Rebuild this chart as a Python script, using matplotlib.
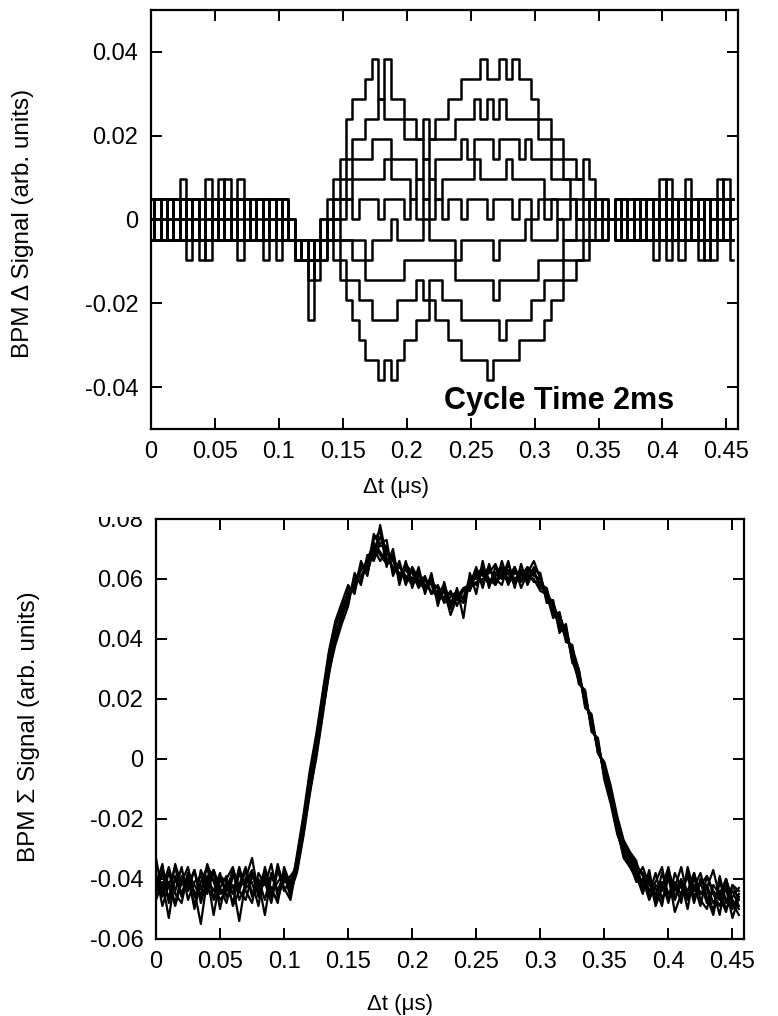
import numpy as np
import matplotlib.pyplot as plt
from matplotlib.patches import Rectangle

plt.rcParams['font.family'] = ['Liberation Sans', 'DejaVu Sans']

# sampling step of the scope traces (us)
T_STEP = 0.005
# one ADC step of the delta signal (arb. units)
LSB_DELTA = 0.0048
# sum signal values are written in units of 0.001
SUM_UNIT = 0.001

X_TICKS = [0, 0.05, 0.1, 0.15, 0.2, 0.25, 0.3, 0.35, 0.4, 0.45]
X_LABELS = ['0', '0.05', '0.1', '0.15', '0.2', '0.25', '0.3', '0.35', '0.4', '0.45']
DELTA_TICKS = [-0.04, -0.02, 0, 0.02, 0.04]
DELTA_LABELS = ['-0.04', '-0.02', '0', '0.02', '0.04']
SUM_TICKS = [-0.06, -0.04, -0.02, 0, 0.02, 0.04, 0.06, 0.08]
SUM_LABELS = ['-0.06', '-0.04', '-0.02', '0', '0.02', '0.04', '0.06', '0.08']

# delta signal, in ADC steps, one list per turn
delta_1 = [1, -1, 0, 1, -1, 1, 0, -1, 1, -1, 0, 1, -1, 1, 2, -1, 0, 1, -1, 1, 0, -1,
           0, -1, -2, -1, -1, 0,
           1, 2, 3, 5, 6, 6, 7, 8, 6, 8, 6, 6, 5, 5, 4, 5, 4, 5, 5, 6,
           6, 7, 7, 7, 8, 7, 7, 8, 7, 8, 7, 7, 6, 5, 5, 4, 4, 3, 3, 2, 3, 2, 1, 1, 0,
           1, -1, 0, 1, -1, 1, -1, 2, 0, -1, 1, -1, 1, 0, -1, 1, -1, 2, -1]
delta_2 = [-1, 1, 0, -1, 1, -1, 1, 0, -1, 2, -1, 1, 0, -1, 1, -1, 0, 1, -1, 0, 1, -1,
           -1, -2, -1, -2, -1, -1,
           0, 1, 2, 3, 4, 4, 5, 5, 6, 5, 5, 5, 4, 4, 4, 3, 4, 4, 4, 4,
           5, 5, 5, 6, 5, 6, 5, 6, 5, 5, 5, 5, 5, 4, 4, 3, 3, 2, 2, 2, 1, 1, 1, 0, 0,
           -1, 1, -1, 0, 1, -1, 1, -1, 0, 1, -2, 1, -1, 0, 1, -1, 1, 0, 1]
delta_3 = [0, -1, 1, -1, 0, 1, -2, 1, -1, 0, 1, -1, 1, 0, -1, 1, -1, 0, 1, -1, 1, 0,
           -1, -1, -2, -5, -2, -1,
           0, 1, 1, 2, 3, 3, 3, 4, 4, 4, 3, 3, 3, 3, 2, 3, 2, 3, 3, 3,
           3, 4, 3, 4, 4, 4, 3, 4, 4, 4, 3, 4, 3, 3, 3, 2, 2, 2, 1, 1, 1, 1, 0, 1, 0,
           0, 1, -1, 1, -1, 0, 1, -1, 1, -1, 0, 1, -1, 1, -2, 0, 1, -1, 0]
delta_4 = [1, 0, -1, 1, -1, 0, 1, -1, 1, -2, 1, 0, -1, 1, -1, 0, 1, -1, 1, 0, -1, 1,
           0, -2, -1, -1, -2, 0,
           0, 0, 1, 1, 2, 2, 2, 2, 2, 3, 2, 2, 2, 1, 2, 1, 2, 1, 2, 2,
           2, 2, 2, 3, 2, 2, 2, 2, 3, 2, 2, 2, 2, 2, 1, 1, 1, 1, 1, 0, 1, 0, 0, 0, 0,
           1, -1, 1, -1, 0, 1, -2, 1, 0, -1, 1, -1, 0, 1, -1, 1, 0, -1, 1]
delta_5 = [-1, 1, -1, 0, 1, 2, -1, 1, 0, -1, 1, -1, 0, 1, -1, 1, 0, -1, -2, 1, -1, 0,
           -1, -1, -2, -1, -3, -1,
           0, 0, 0, 1, 0, 1, 1, 1, 0, 1, 1, 1, 0, 1, 0, 1, 0, 1, 0, 1,
           1, 0, 1, 1, 1, 0, 1, 1, 1, 0, 1, 1, 0, 1, 0, 1, 0, 0, 1, 0, 0, 1, 0, 0, 0,
           -1, 0, 1, -1, 1, -1, 0, 1, -1, 1, 0, 2, -1, 1, -1, 0, 1, -1, 1]
delta_6 = [0, 1, -1, 1, 0, -1, 1, -1, -2, 1, 0, -1, 1, -1, 0, 1, -1, 1, 0, -1, 1, -1,
           -1, -2, -1, -2, -1, -1,
           -1, 0, -1, -1, -1, -1, -2, -1, -1, -1, 0, -1, -1, -1, -1, 0, -1, -1, -1, -1,
           -2, -1, -1, -1, -1, -1, -2, -1, -1, -1, -1, 0, -1, -1, -1, -1, 0, -1, -1, 0,
           -1, 0, 0, -1, 0,
           1, -1, 0, 1, -1, 1, -1, 0, -2, 1, -1, 1, 0, -1, 1, -1, 2, 1, -1]
delta_7 = [1, -1, 1, 0, -1, 1, -1, 0, 1, -1, 1, 0, 2, -1, 1, -1, 0, 1, -1, 1, -1, 0,
           0, -1, -2, -1, -2, -1,
           0, -1, -1, -1, -2, -2, -3, -3, -3, -3, -3, -3, -2, -2, -2, -2, -2, -2, -2, -2,
           -3, -3, -3, -3, -3, -3, -4, -3, -3, -3, -3, -3, -3, -2, -2, -2, -2, -1, -1, -1,
           -1, -1, 0, 0, 0,
           0, 1, -1, 1, 0, -1, 1, -1, 1, 0, -1, 1, -1, -2, 1, 0, -1, 1, 0]
delta_8 = [-1, 0, 1, -1, 1, -1, 0, 1, -1, 1, 0, -1, 1, -1, -2, 1, 0, -1, 1, -1, 0, 1,
           -1, -2, -1, -3, -1, -2,
           -1, -1, -2, -3, -3, -4, -4, -5, -5, -5, -5, -4, -4, -4, -3, -4, -3, -3, -4, -4,
           -4, -5, -5, -5, -5, -5, -5, -6, -5, -5, -5, -5, -4, -4, -3, -3, -3, -2, -2, -2,
           -1, -1, -1, 0, 0,
           -1, 1, 0, -1, 1, -1, 1, 0, -1, 1, -1, 0, 1, -1, 1, -2, 1, -1, 1]
delta_9 = [0, 1, -1, 1, -1, 0, 1, -1, 1, 0, -1, 2, -1, 0, 1, -1, 1, -1, 0, 1, -2, 1,
           -1, -1, -2, -2, -1, -2,
           -1, -2, -3, -4, -5, -6, -7, -7, -8, -7, -8, -7, -6, -6, -5, -5, -4, -5, -5, -6,
           -6, -7, -7, -7, -7, -8, -7, -7, -7, -7, -6, -6, -6, -6, -5, -4, -4, -3, -3, -2,
           -2, -1, -1, -1, 0,
           1, 0, -1, 1, -1, 1, 0, -1, 2, -1, 1, -1, 0, 1, -1, 1, -1, 0, -2]

# sum signal, in units of 0.001
sum_1 = [-40, -46, -38, -44, -36, -47, -41, -39, -45, -37, -43, -48, -39, -42, -36, -45, -40, -47, -38, -44, -41, -39,
         -36, -24, -10, 2, 16, 30, 41, 47, 56, 57, 63, 66, 72, 69,
         66, 67, 60, 64, 59, 62, 57, 60, 54, 57, 52, 56, 53, 60, 58, 63, 59, 62, 64, 58, 63, 60, 62, 59,
         59, 54, 51, 44, 43, 34, 27, 21, 11, 5, -5, -13, -23, -31, -35, -38,
         -41, -45, -38, -47, -40, -43, -36, -46, -42, -49, -39, -44, -47, -41, -50, -45]
sum_2 = [-44, -38, -47, -35, -42, -40, -49, -37, -43, -46, -39, -41, -45, -36, -44, -48, -38, -42, -35, -46, -40, -43,
         -33, -20, -6, 6, 20, 34, 44, 50, 53, 60, 61, 64, 68, 74,
         70, 63, 65, 59, 63, 58, 61, 55, 58, 53, 56, 51, 57, 56, 62, 59, 63, 60, 58, 65, 59, 62, 60, 63,
         57, 56, 48, 47, 41, 36, 29, 19, 13, 3, -3, -11, -21, -29, -33, -36,
         -38, -44, -41, -36, -47, -42, -45, -39, -48, -40, -43, -37, -46, -51, -42, -44]
sum_3 = [-33, -45, -41, -48, -39, -44, -37, -46, -42, -38, -50, -40, -36, -44, -47, -39, -43, -37, -45, -41, -38, -44,
         -38, -26, -12, 1, 15, 28, 40, 49, 54, 59, 60, 67, 71, 68,
         65, 68, 61, 63, 60, 62, 58, 56, 55, 58, 52, 55, 54, 59, 61, 64, 60, 58, 62, 60, 64, 59, 63, 61,
         60, 53, 50, 45, 43, 33, 26, 22, 10, 6, -6, -14, -24, -32, -36, -39,
         -45, -37, -48, -42, -39, -46, -41, -44, -38, -47, -50, -42, -45, -40, -48, -52]
sum_4 = [-47, -41, -53, -39, -45, -42, -37, -48, -40, -44, -38, -46, -42, -54, -41, -37, -46, -39, -43, -48, -36, -42,
         -34, -21, -7, 5, 19, 33, 43, 46, 57, 56, 64, 63, 75, 71,
         71, 62, 64, 61, 58, 61, 60, 58, 53, 54, 55, 53, 56, 57, 59, 60, 62, 65, 60, 62, 58, 63, 61, 60,
         56, 55, 52, 46, 40, 37, 30, 18, 14, 2, -2, -10, -20, -28, -32, -35,
         -39, -46, -43, -49, -37, -44, -40, -47, -43, -38, -46, -52, -41, -47, -44, -49]
sum_5 = [-39, -43, -36, -45, -48, -38, -42, -46, -35, -41, -47, -44, -38, -43, -40, -33, -45, -41, -48, -37, -44, -40,
         -37, -23, -9, 3, 17, 31, 39, 48, 52, 61, 59, 66, 67, 78,
         67, 64, 62, 60, 63, 59, 57, 59, 57, 52, 54, 56, 53, 61, 60, 62, 58, 61, 63, 59, 62, 61, 64, 62,
         58, 57, 49, 48, 42, 35, 28, 20, 12, 4, -4, -12, -22, -30, -34, -37,
         -43, -40, -47, -38, -45, -41, -48, -36, -44, -42, -39, -45, -49, -43, -53, -46]
sum_6 = [-45, -37, -42, -49, -41, -36, -46, -43, -39, -52, -40, -44, -37, -47, -42, -38, -45, -40, -46, -35, -43, -47,
         -35, -22, -8, 6, 21, 35, 45, 51, 55, 58, 65, 62, 70, 66,
         69, 66, 61, 65, 62, 57, 60, 55, 56, 56, 51, 54, 57, 58, 63, 61, 64, 59, 61, 63, 60, 62, 59, 64,
         61, 54, 51, 43, 44, 34, 27, 21, 11, 5, -5, -13, -23, -33, -36, -40,
         -36, -42, -45, -41, -48, -38, -43, -46, -40, -45, -42, -48, -44, -50, -46, -43]
sum_7 = [-42, -35, -48, -40, -45, -38, -50, -41, -36, -47, -43, -39, -49, -44, -37, -46, -41, -52, -39, -44, -38, -46,
         -32, -19, -4, 8, 22, 36, 46, 52, 58, 55, 66, 61, 73, 76,
         64, 70, 58, 66, 57, 64, 55, 62, 51, 59, 50, 57, 47, 62, 55, 66, 57, 64, 60, 66, 57, 65, 58, 63,
         62, 52, 53, 42, 45, 32, 30, 17, 15, 2, -1, -9, -19, -27, -31, -34,
         -44, -39, -49, -43, -36, -47, -41, -50, -38, -45, -43, -51, -39, -48, -42, -47]
sum_8 = [-38, -49, -42, -36, -46, -41, -44, -55, -40, -37, -45, -42, -48, -38, -43, -41, -49, -36, -44, -47, -39, -45,
         -37, -25, -11, 0, 14, 29, 38, 45, 51, 62, 58, 68, 66, 72,
         73, 61, 66, 58, 64, 60, 56, 61, 53, 56, 48, 54, 52, 58, 64, 57, 65, 58, 66, 59, 64, 57, 62, 66,
         60, 55, 47, 49, 39, 38, 25, 23, 9, 7, -7, -15, -25, -31, -35, -41,
         -40, -47, -42, -44, -39, -51, -45, -38, -46, -41, -48, -44, -52, -40, -47, -50]

delta_traces = [delta_1, delta_2, delta_3, delta_4, delta_5, delta_6, delta_7, delta_8, delta_9]
sum_traces = [sum_1, sum_2, sum_3, sum_4, sum_5, sum_6, sum_7, sum_8]

fig = plt.figure(figsize=(7.78, 10.16), dpi=100)
ax1 = fig.add_axes([0.194, 0.5778, 0.7545, 0.4124])
ax2 = fig.add_axes([0.2005, 0.0758, 0.7558, 0.4134])

for tr in delta_traces:
    t = np.arange(len(tr)) * T_STEP
    ax1.plot(t, np.array(tr) * LSB_DELTA, color='black', lw=1.8, drawstyle='steps-mid')

for tr in sum_traces:
    t = np.arange(len(tr)) * T_STEP
    ax2.plot(t, np.array(tr) * SUM_UNIT, color='black', lw=1.6)

for ax in (ax1, ax2):
    ax.set_xlim(0, 0.459)
    ax.set_xticks(X_TICKS)
    ax.set_xticklabels(X_LABELS)
    ax.tick_params(direction='in', top=True, right=True, length=8, width=1.4,
                   labelsize=17, pad=9)
    for sp in ax.spines.values():
        sp.set_linewidth(1.6)

ax1.set_ylim(-0.05, 0.05)
ax1.set_yticks(DELTA_TICKS)
ax1.set_yticklabels(DELTA_LABELS)
ax1.set_xlabel('Δt (μs)', fontsize=16)
ax1.set_ylabel('BPM Δ Signal (arb. units)', fontsize=17.5)
ax1.xaxis.set_label_coords(0.417, -0.115)
ax1.yaxis.set_label_coords(-0.2, 0.49)
ax1.text(0.229, -0.0452, 'Cycle Time 2ms', fontsize=22, fontweight='bold',
         ha='left', va='baseline')

ax2.set_ylim(-0.06, 0.08)
ax2.set_yticks(SUM_TICKS)
ax2.set_yticklabels(SUM_LABELS)
ax2.set_xlabel('Δt (μs)', fontsize=16)
ax2.set_ylabel('BPM Σ Signal (arb. units)', fontsize=17.5)
ax2.xaxis.set_label_coords(0.415, -0.132)
ax2.yaxis.set_label_coords(-0.197, 0.505)

# the top of the lower panel's first label is cut off in the original
fig.add_artist(Rectangle((0, 0.4907), 0.19, 0.0143, transform=fig.transFigure,
                         facecolor='white', edgecolor='none', zorder=5))

fig.savefig('out.png', dpi=100, facecolor='white')
